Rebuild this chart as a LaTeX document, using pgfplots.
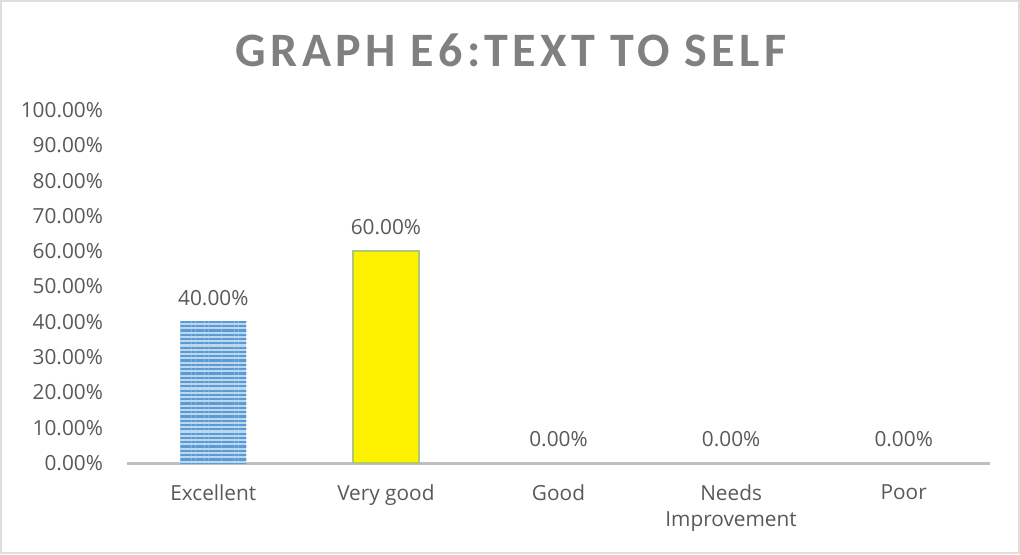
\documentclass[border=0pt]{standalone}
\usepackage{fontspec}
\setmainfont{Open Sans}
\newfontfamily\titlefont[LetterSpace=9]{Carlito}
\usepackage{pgfplots}
\pgfplotsset{compat=1.18}
\usetikzlibrary{patterns.meta}
\definecolor{txt}{HTML}{595959}
\definecolor{ttl}{HTML}{808080}
\definecolor{axl}{HTML}{BFBFBF}
\definecolor{barblue}{HTML}{5B9BD5}
\definecolor{lightblue}{HTML}{BDD7EE}
\begin{document}
\begin{tikzpicture}[x=0.5pt,y=0.5pt]
\useasboundingbox (-127,-91) rectangle (893,463);
\draw[color=black!13,line width=1pt] (-126,-90) rectangle (892,462);
\node[font=\titlefont\fontsize{24}{28}\selectfont\bfseries, text=ttl] at (384,413) {GRAPH E6:TEXT TO SELF};
\begin{axis}[
  at={(0,0)}, anchor=south west,
  scale only axis,
  width=431.5pt, height=176.5pt,
  xmin=-0.5, xmax=4.5, ymin=0, ymax=100,
  axis y line*=left,
  y axis line style={draw=none},
  axis x line*=bottom,
  x axis line style={draw=axl, line width=1.5pt, -},
  ytick={0,10,...,100},
  xtick={0,1,2,3,4},
  xticklabels={Excellent, Very good, Good, {Needs\\Improvement}, Poor},
  major tick length=0pt,
  ytick style={draw=none}, xtick style={draw=none},
  /pgf/number format/assume math mode=true,
  yticklabel={\pgfmathprintnumber[fixed,fixed zerofill,precision=2]{\tick}\%},
  ticklabel style={font=\fontsize{10.4}{13}\selectfont, text=txt},
  xticklabel style={align=center, yshift=-7.5pt},
  yticklabel style={xshift=-8.5pt},
  ybar, bar width=33pt, bar shift=0pt,
  nodes near coords={\pgfmathprintnumber[fixed,fixed zerofill,precision=2]{\pgfplotspointmeta}\%},
  nodes near coords style={font=\fontsize{10.4}{13}\selectfont, text=txt, anchor=south, yshift=4.5pt},
  clip=false,
]
\addplot[draw=none, fill=lightblue, postaction={pattern={Lines[angle=0,distance=2.15pt,line width=1.1pt]}, pattern color=barblue}] coordinates {(0,40)};
\addplot[draw=yellow!60!gray!80!cyan, line width=1pt, fill=yellow] coordinates {(1,60)};
\addplot[draw=none, fill=none] coordinates {(2,0) (3,0) (4,0)};
\end{axis}
\end{tikzpicture}
\end{document}
